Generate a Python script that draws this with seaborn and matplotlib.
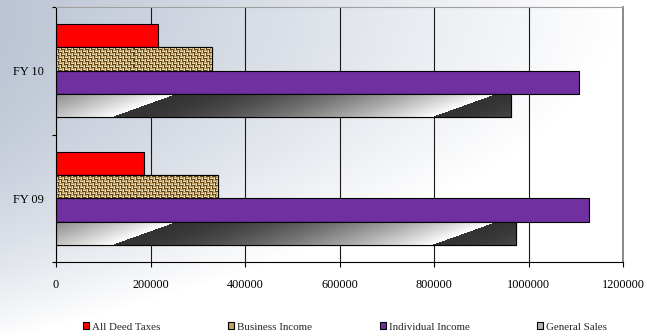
import numpy as np
import pandas as pd
import matplotlib
matplotlib.use("Agg")
import matplotlib.pyplot as plt
import seaborn as sns
from matplotlib.patches import Patch, Rectangle
from matplotlib.ticker import StrMethodFormatter
from matplotlib.colors import to_rgb

years = ['FY 10', 'FY 09']
taxes = ['All Deed Taxes', 'Business Income', 'Individual Income', 'General Sales']
deed_taxes = [216000, 187000]
business_income = [330000, 343000]
individual_income = [1107000, 1128000]
general_sales = [962000, 973000]
x_ticks = [0, 200000, 400000, 600000, 800000, 1000000, 1200000]

colors = {'All Deed Taxes': '#ff0000', 'Business Income': '#c1a066',
          'Individual Income': '#7030a0', 'General Sales': '#b4b4b4'}

df = pd.DataFrame({
    'year': years * 4,
    'tax': np.repeat(taxes, 2),
    'value': deed_taxes + business_income + individual_income + general_sales,
})

sns.set_theme(style='white')
plt.rcParams['font.family'] = ['Liberation Serif', 'DejaVu Serif']

W, H = 651, 334
fig = plt.figure(figsize=(W / 100, H / 100), dpi=100)

# background gradient (blue-grey on the left fading to white)
bg = fig.add_axes([0, 0, 1, 1], zorder=-10)
bg.axis('off')
xx, yy = np.meshgrid(np.linspace(0, 1, W), np.linspace(0, 1, H))
d = np.clip(1 - xx / 0.95 - 0.95 * yy ** 2.2, 0, 1)[..., None]
dark = np.array(to_rgb('#bcc5d4'))
bg.imshow(d * dark + (1 - d) * np.ones(3), extent=(0, 1, 0, 1), aspect='auto')
bg.set_xlim(0, 1)
bg.set_ylim(0, 1)

ax = fig.add_axes([56 / W, 1 - 262 / H, 567 / W, 255 / H])
ax.set_facecolor('none')

sns.barplot(data=df, x='value', y='year', hue='tax', order=years, hue_order=taxes,
            palette=colors, saturation=1, width=0.73, edgecolor='black',
            linewidth=0.8, legend=False, ax=ax)

ax.set_xlim(0, 1200000)
ax.set_ylim(1.5, -0.5)
px_per_unit = 567 / 1200000


def weave(nr, nc):
    light, mid, shade = [np.array(to_rgb(c)) for c in ('#eadbb0', '#b99758', '#5c4420')]
    img = np.zeros((nr, nc, 3))
    for r in range(nr):
        for c in range(nc):
            block = ((r // 3) + (c // 3)) % 2
            k = r % 3 if block == 0 else c % 3
            img[r, c] = [mid, light, shade][k]
    return img


def metal(nr, nc, x0, w):
    cols = x0 + (np.arange(nc) + 0.5) / nc * w
    up = 1 - (np.arange(nr) + 0.5) / nr
    xg, ug = np.meshgrid(cols, up)
    period = 676000
    p = xg - 190000 - (ug - 0.5) * 142000
    s = np.mod(p, period) / period
    b = 0.2 + 0.8 * s ** 1.7
    return np.repeat(b[..., None], 3, axis=2)


def add_texture(bar, kind):
    x0, y0 = bar.get_x(), bar.get_y()
    w, h = bar.get_width(), bar.get_height()
    nc = max(int(w * px_per_unit), 2)
    nr = 24
    img = weave(nr, nc) if kind == 'weave' else metal(nr, nc, x0, w)
    z = bar.get_zorder()
    im = ax.imshow(img, extent=(x0, x0 + w, y0 + h, y0), origin='upper',
                   aspect='auto', interpolation='nearest', zorder=z + 0.1)
    im.set_clip_path(bar)
    ax.add_patch(Rectangle((x0, y0), w, h, fill=False, edgecolor='black',
                           linewidth=0.8, zorder=z + 0.2))


for container, tax in zip(ax.containers, taxes):
    for bar in container:
        if tax == 'Business Income':
            add_texture(bar, 'weave')
        elif tax == 'General Sales':
            add_texture(bar, 'metal')

ax.set_xlim(0, 1200000)
ax.set_ylim(1.5, -0.5)

ax.set_xticks(x_ticks)
ax.xaxis.set_major_formatter(StrMethodFormatter('{x:.0f}'))
ax.tick_params(axis='x', bottom=True, length=3.6, width=0.8, color='black',
               pad=8.8, labelsize=8.8, labelcolor='black', direction='out')
ax.tick_params(axis='y', which='major', left=True, length=0, pad=8.4,
               labelsize=9, labelcolor='black')
ax.set_yticks([-0.5, 0.5, 1.5], minor=True)
ax.tick_params(axis='y', which='minor', left=True, length=3, width=0.8,
               color='black', direction='out')
ax.set_xlabel('')
ax.set_ylabel('')

ax.set_axisbelow(True)
ax.xaxis.grid(True, color='#1a1a1a', linewidth=0.8)
ax.yaxis.grid(False)

for side in ['left', 'bottom']:
    ax.spines[side].set_color('black')
    ax.spines[side].set_linewidth(0.8)
ax.spines['top'].set_color('#a0a0a0')
ax.spines['top'].set_linewidth(0.8)
ax.spines['right'].set_color('#808080')
ax.spines['right'].set_linewidth(1.3)
for s in ax.spines.values():
    s.set_visible(True)

handles = [Patch(facecolor=colors[t], edgecolor='black', linewidth=0.8) for t in taxes]
fig.legend(handles, taxes, loc='center', bbox_to_anchor=(345 / W, 1 - 327 / H),
           ncol=4, frameon=False, fontsize=7.9, handlelength=0.55,
           handleheight=0.55, handletextpad=0.25, columnspacing=6.2,
           borderaxespad=0)

fig.savefig('out.png', dpi=100)
